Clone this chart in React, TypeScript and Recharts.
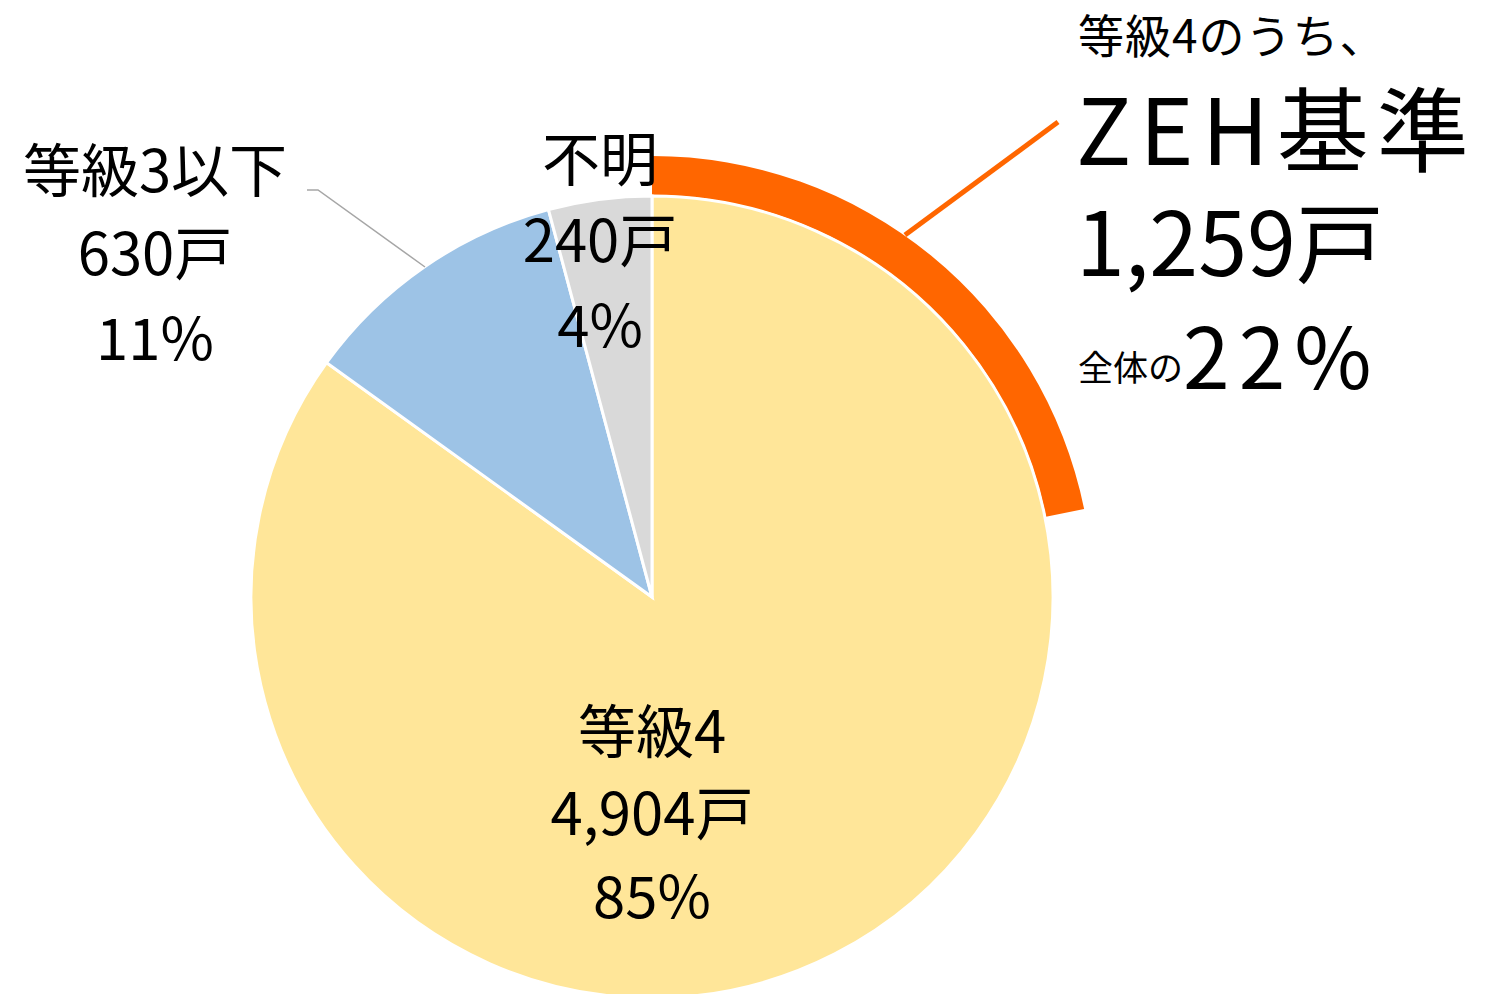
import React from 'react';
import { PieChart, Pie, Cell } from 'recharts';

// 住宅の断熱等級別戸数
const categories = ['等級4', '等級3以下', '不明'];
const units = [4904, 630, 240];
const shares = ['85%', '11%', '4%'];
const colors = ['#FFE699', '#9DC3E6', '#D9D9D9'];

// 等級4のうちZEH基準
const zehUnits = 1259;
const zehShare = '22%';

const total = units.reduce((a, b) => a + b, 0);
const pieData = categories.map((name, i) => ({ name, value: units[i] }));
const ringData = [
  { name: 'ZEH基準', value: zehUnits },
  { name: 'その他', value: total - zehUnits },
];

const FONT = '"Noto Sans CJK JP", "Noto Sans", sans-serif';
const fmt = (n: number) => n.toLocaleString('en-US');

// label block offsets from the pie centre
const labelPos = [
  { dx: 0, dy: [131, 213, 296] },
  { dx: -497, dy: [-430, -347, -262] },
  { dx: -52, dy: [-441, -360, -275] },
];

const renderLabel = (props: any) => {
  const { cx, cy, index } = props;
  const pos = labelPos[index];
  const x = cx + pos.dx;
  const lines = [categories[index], `${fmt(units[index])}戸`, shares[index]];
  return (
    <g key={`lbl-${index}`}>
      {index === 1 && (
        <polyline
          points={`${cx - 345},${cy - 407} ${cx - 334},${cy - 407} ${cx - 227},${cy - 330}`}
          fill="none"
          stroke="#A6A6A6"
          strokeWidth={1.5}
        />
      )}
      {lines.map((t, i) => (
        <text
          key={i}
          x={x}
          y={cy + pos.dy[i]}
          textAnchor="middle"
          dominantBaseline="central"
          fontFamily={FONT}
          fontSize={58}
          fill="#000"
        >
          {t}
        </text>
      ))}
    </g>
  );
};

const renderZehLabel = (props: any) => {
  const { cx, cy, index } = props;
  if (index !== 0) return null;
  const x = cx + 426;
  return (
    <g key="zeh-lbl">
      <line x1={cx + 253} y1={cy - 362} x2={cx + 406} y2={cy - 475} stroke="#FF6600" strokeWidth={5} />
      <text x={x} y={cy - 564} dominantBaseline="central" fontFamily={FONT} fontSize={46} letterSpacing={1} fill="#000">
        等級4のうち、
      </text>
      <text x={x - 2} y={cy - 473} dominantBaseline="central" fontFamily={FONT} fontSize={92} letterSpacing={8} fill="#000">
        ZEH基準
      </text>
      <text x={x - 2} y={cy - 360} dominantBaseline="central" fontFamily={FONT} fontSize={88} fill="#000">
        {`${fmt(zehUnits)}戸`}
      </text>
      <text x={x} y={cy - 245} dominantBaseline="central" fontFamily={FONT} fill="#000">
        <tspan fontSize={35} dy={13}>全体の</tspan>
        <tspan fontSize={84} dy={-13} letterSpacing={9}>{zehShare}</tspan>
      </text>
    </g>
  );
};

export default function App() {
  return (
    <div style={{ width: 1488, height: 994, background: '#fff' }}>
      <style>{'body{margin:0}'}</style>
      <PieChart width={1488} height={994} margin={{ top: 0, right: 0, bottom: 0, left: 0 }}>
        <Pie
          data={ringData}
          dataKey="value"
          cx={652}
          cy={597}
          innerRadius={402}
          outerRadius={441}
          startAngle={90}
          endAngle={-270}
          stroke="none"
          label={renderZehLabel}
          labelLine={false}
          isAnimationActive={false}
        >
          <Cell fill="#FF6600" />
          <Cell fill="transparent" />
        </Pie>
        <Pie
          data={pieData}
          dataKey="value"
          cx={652}
          cy={597}
          outerRadius={401}
          startAngle={90}
          endAngle={-270}
          stroke="#fff"
          strokeWidth={3}
          label={renderLabel}
          labelLine={false}
          isAnimationActive={false}
        >
          {pieData.map((d, i) => (
            <Cell key={d.name} fill={colors[i]} />
          ))}
        </Pie>
      </PieChart>
    </div>
  );
}
